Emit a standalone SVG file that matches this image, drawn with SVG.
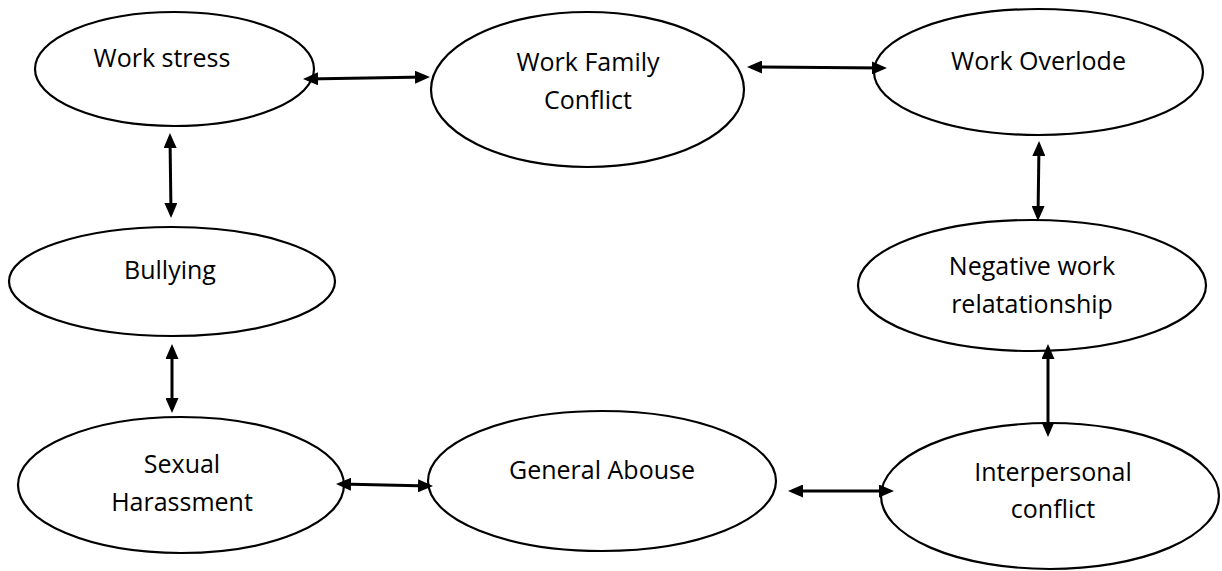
<svg xmlns="http://www.w3.org/2000/svg" width="1222" height="571" viewBox="0 0 1222 571">
<style>
.node ellipse{fill:#fff;stroke:#000;stroke-width:2.2}
.node text{font-family:"Open Sans","Noto Sans",sans-serif;font-size:25px;fill:#000;text-anchor:middle}
.conn line{stroke:#000;stroke-width:3;marker-start:url(#ah);marker-end:url(#ah)}
</style>
<defs>
<marker id="ah" viewBox="0 0 15 13" refX="11" refY="6.5" markerWidth="15" markerHeight="13" markerUnits="userSpaceOnUse" orient="auto-start-reverse">
<path d="M0,0 L15,6.5 L0,13 Z" fill="#000"/>
</marker>
</defs>
<rect width="1222" height="571" fill="#fff"/>
<g id="work-stress" class="node"><ellipse cx="174.5" cy="69" rx="139.5" ry="57"/><text x="162" y="67">Work stress</text></g>
<g id="work-family-conflict" class="node"><ellipse cx="587.5" cy="89.5" rx="156.5" ry="77.5"/><text x="588" y="71">Work Family</text><text x="588" y="109">Conflict</text></g>
<g id="work-overlode" class="node"><ellipse cx="1038.5" cy="72" rx="164.5" ry="63"/><text x="1038.5" y="70">Work Overlode</text></g>
<g id="bullying" class="node"><ellipse cx="172" cy="281.5" rx="163" ry="54.5"/><text x="170" y="279">Bullying</text></g>
<g id="negative-work" class="node"><ellipse cx="1032" cy="285.5" rx="174" ry="65.5"/><text x="1032" y="275">Negative work</text><text x="1032" y="313">relatationship</text></g>
<g id="sexual-harassment" class="node"><ellipse cx="181" cy="485" rx="163" ry="68"/><text x="182" y="473">Sexual</text><text x="182" y="511">Harassment</text></g>
<g id="general-abouse" class="node"><ellipse cx="602" cy="481" rx="174" ry="70"/><text x="602" y="479">General Abouse</text></g>
<g id="interpersonal-conflict" class="node"><ellipse cx="1050" cy="496" rx="169" ry="73"/><text x="1053" y="481">Interpersonal</text><text x="1053" y="518">conflict</text></g>
<g id="connectors" class="conn">
<line x1="307" y1="79" x2="426" y2="77"/>
<line x1="751" y1="67" x2="883" y2="68"/>
<line x1="170" y1="137" x2="171" y2="214"/>
<line x1="172" y1="348" x2="172" y2="409"/>
<line x1="340" y1="484" x2="429" y2="486"/>
<line x1="792" y1="491" x2="890" y2="491"/>
<line x1="1039" y1="145" x2="1038" y2="217"/>
<line x1="1048" y1="348" x2="1048" y2="433"/>
</g>
</svg>
